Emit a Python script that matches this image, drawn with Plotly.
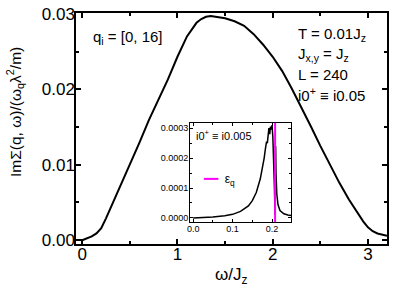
import plotly.graph_objects as go

# main curve: omega/Jz vs ImSigma/(omega_q lambda^2/m)
omega = [0, 0.05, 0.1, 0.15, 0.2, 0.25, 0.3, 0.35, 0.4, 0.5, 0.6, 0.7, 0.8, 0.9, 1.0, 1.1, 1.2,
         1.25, 1.3, 1.35, 1.4, 1.5, 1.6, 1.7, 1.8, 1.9, 2.0, 2.1, 2.2, 2.3, 2.4, 2.5, 2.6, 2.7, 2.8,
         2.9, 2.95, 3.0, 3.05, 3.1, 3.2]
imsigma = [0.0000, 0.0002, 0.0005, 0.0009, 0.0016, 0.0029, 0.0043, 0.0057, 0.0071, 0.0099, 0.0129,
           0.0159, 0.0186, 0.0213, 0.0243, 0.0270, 0.0288, 0.0293, 0.0296, 0.0297, 0.0296, 0.0294,
           0.0290, 0.0284, 0.0273, 0.0259, 0.0243, 0.0224, 0.0201, 0.0177, 0.0151, 0.0125, 0.0100,
           0.0076, 0.0054, 0.0034, 0.0025, 0.0017, 0.0012, 0.0009, 0.0006]

# inset curve (i0+ = i0.005)
omega_in = [0.0, 0.02, 0.05, 0.08, 0.10, 0.12, 0.14, 0.15, 0.16, 0.17, 0.175, 0.18, 0.183,
            0.186, 0.188, 0.19, 0.192, 0.194, 0.196, 0.198, 0.200, 0.202, 0.204, 0.206, 0.2075,
            0.209, 0.210, 0.212, 0.215, 0.220, 0.230, 0.240, 0.248]
imsigma_in = [0.0, 0.000001, 0.000003, 0.000007, 0.000012, 0.000022, 0.000040, 0.000058,
              0.000085, 0.000130, 0.000160, 0.000200, 0.000230, 0.000255, 0.000250, 0.000285,
              0.000300, 0.000280, 0.000305, 0.000295, 0.000310, 0.000270, 0.000200, 0.000100,
              0.000010, 0.000240, 0.000150, 0.000080, 0.000045, 0.000025, 0.000014, 0.000010,
              0.000008]
eps_q = 0.2077

FONT = "Liberation Sans, Arial, sans-serif"
W, H = 394, 294
L, R, T, B = 76, 7, 13, 50
PW, PH = W - L - R, H - T - B


def px(x):
    return (x - L) / PW


def py(y):
    return (H - B - y) / PH


fig = go.Figure()
fig.add_trace(go.Scatter(x=omega, y=imsigma, mode="lines", line=dict(color="black", width=2),
                         showlegend=False, xaxis="x", yaxis="y"))
fig.add_trace(go.Scatter(x=omega_in, y=imsigma_in, mode="lines", line=dict(color="black", width=1.5),
                         showlegend=False, xaxis="x2", yaxis="y2"))
yr_in = [-0.0000135, 0.000317]
fig.add_trace(go.Scatter(x=[eps_q, eps_q], y=yr_in, mode="lines", line=dict(color="#ff00ff", width=2),
                         name="ε<sub>q</sub>", showlegend=False, xaxis="x2", yaxis="y2"))

axis_common = dict(showline=True, linecolor="black", mirror="ticks", ticks="inside",
                   tickcolor="black", showgrid=False, zeroline=False, automargin=False)

fig.update_layout(
    width=W, height=H,
    margin=dict(l=L, r=R, t=T, b=B),
    paper_bgcolor="white", plot_bgcolor="white",
    font=dict(family=FONT, color="black"),
    showlegend=False,
    xaxis=dict(domain=[0, 1], range=[-0.065, 3.2], tickvals=[0, 1, 2, 3], ticklen=5, tickwidth=1.5,
               linewidth=1.5, ticklabelstandoff=-6,
               minor=dict(dtick=0.5, tick0=0, ticks="inside", ticklen=3, tickcolor="black"),
               tickfont=dict(size=17), **axis_common),
    yaxis=dict(domain=[0, 1], range=[-0.0005, 0.0301], tickvals=[0, 0.01, 0.02, 0.03], tickformat=".2f",
               ticklen=5, tickwidth=1.5, linewidth=1.5, ticklabelstandoff=-4,
               minor=dict(dtick=0.005, tick0=0, ticks="inside", ticklen=3, tickcolor="black"),
               tickfont=dict(size=17), **axis_common),
    xaxis2=dict(domain=[px(190), px(291)], anchor="y2", range=[-0.008, 0.248], tickvals=[0, 0.1, 0.2],
                tickformat=".1f", ticklen=3, tickwidth=1, linewidth=1, ticklabelstandoff=-2,
                minor=dict(dtick=0.05, tick0=0, ticks="inside", ticklen=2, tickcolor="black"),
                tickfont=dict(size=9), **axis_common),
    yaxis2=dict(domain=[py(222), py(123)], anchor="x2", range=yr_in, tickvals=[0, 0.0001, 0.0002, 0.0003],
                tickformat=".4f", ticklen=3, tickwidth=1, linewidth=1, ticklabelstandoff=-1,
                minor=dict(dtick=0.00005, tick0=0, ticks="inside", ticklen=2, tickcolor="black"),
                tickfont=dict(size=9), **axis_common),
)

# axis titles
fig.add_annotation(x=px(15), y=py(112), xref="paper", yref="paper",
                   text="ImΣ(q, ω)/(ω<sub>q</sub>λ<sup>2</sup>/m)", textangle=-90, showarrow=False,
                   xanchor="center", yanchor="middle", font=dict(size=15.5))
fig.add_annotation(x=px(231), y=py(276), xref="paper", yref="paper", text="ω/J<sub>z</sub>",
                   showarrow=False, xanchor="center", yanchor="middle", font=dict(size=17))

fig.add_annotation(x=px(91), y=py(37), xref="paper", yref="paper", text="q<sub>i</sub> = [0, 16]",
                   showarrow=False, xanchor="left", yanchor="middle", font=dict(size=15))
right_lines = ["T = 0.01J<sub>z</sub>", "J<sub>x,y</sub> = J<sub>z</sub>", "L = 240", "i0<sup>+</sup> ≡ i0.05"]
for i, t in enumerate(right_lines):
    fig.add_annotation(x=px(296), y=py(34 + 20 * i), xref="paper", yref="paper", text=t,
                       showarrow=False, xanchor="left", yanchor="middle", font=dict(size=15))
fig.add_annotation(x=px(194), y=py(135), xref="paper", yref="paper",
                   text="i0<sup>+</sup> ≡ i0.005", showarrow=False, xanchor="left", yanchor="middle",
                   font=dict(size=11))
# legend entry for eps_q
fig.add_annotation(x=px(201), y=py(180), xref="paper", yref="paper",
                   text="<span style='color:#ff00ff'>━━</span>  ε<sub>q</sub>", showarrow=False,
                   xanchor="left", yanchor="middle", font=dict(size=12))

fig.write_html("out.html", config={"displayModeBar": False},
               post_script="document.body.style.margin='0';document.body.style.padding='0';")
